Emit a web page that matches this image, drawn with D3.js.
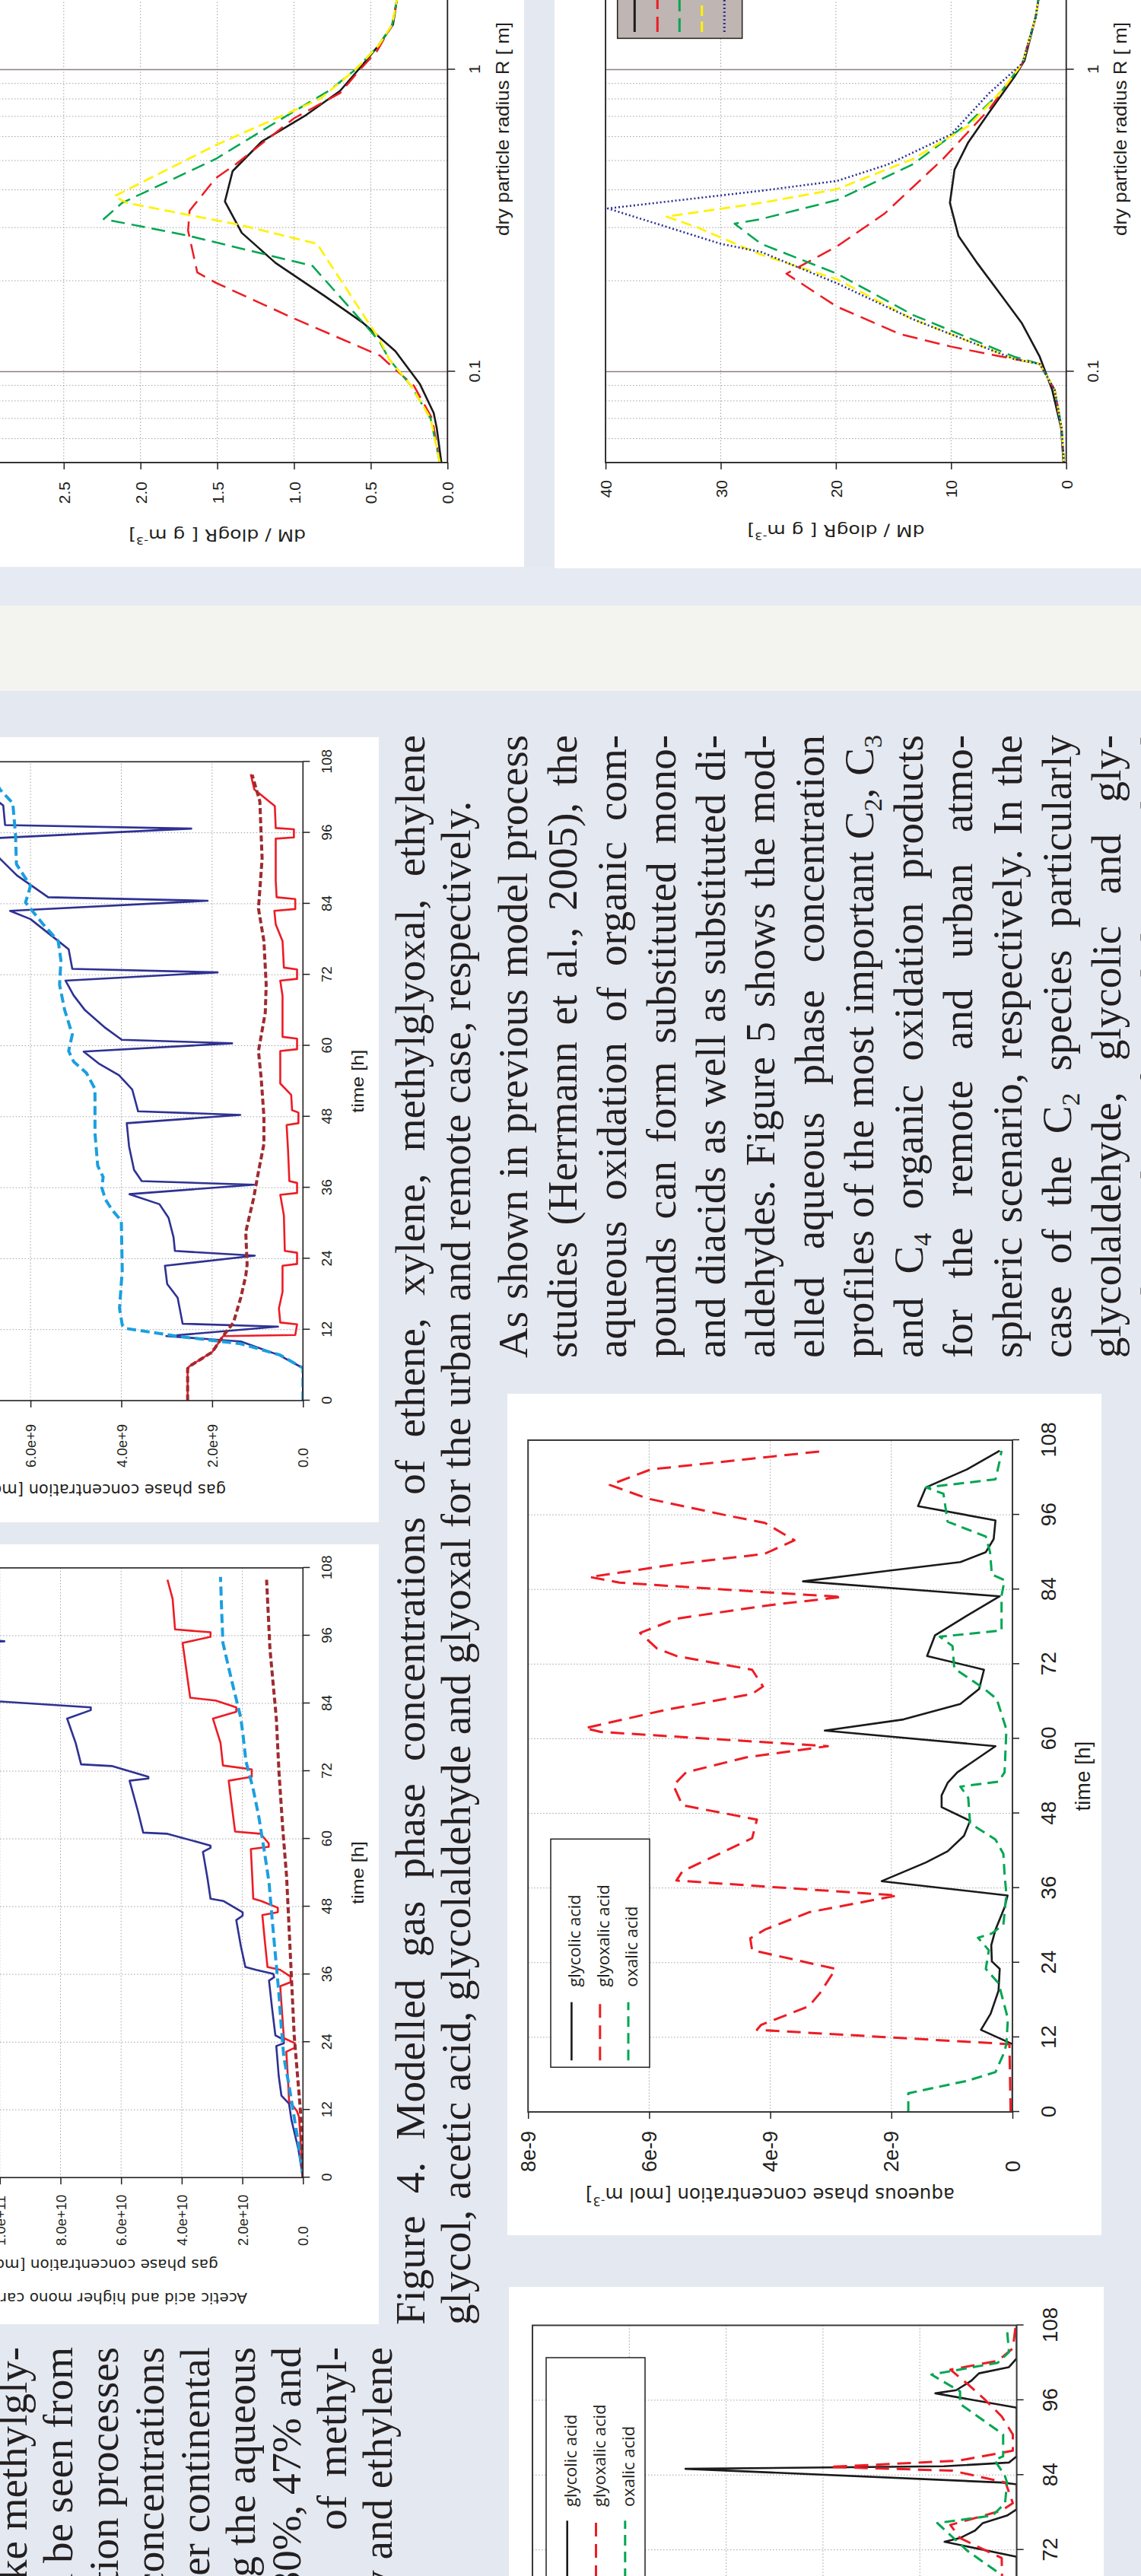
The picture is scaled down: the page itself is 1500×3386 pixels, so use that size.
<!DOCTYPE html>
<html><head><meta charset="utf-8">
<script src="https://cdn.jsdelivr.net/npm/d3@7"></script>
<style>html,body{margin:0;padding:0;background:#e4e9f1;}svg{display:block}</style>
</head><body>
<script>
// ================= DATA =================
const timeTicks = [0,12,24,36,48,60,72,84,96,108];
// panel C (gas phase, x1e9)
const gasTicksC = [0,2,4,6,8];
const gasTickLabelsC = ["0.0","2.0e+9","4.0e+9","6.0e+9","8.0e+9"];
// panel D (acetic acid, x1e10)
const gasTicksD = [0,2,4,6,8,10,12];
const gasTickLabelsD = ["0.0","2.0e+10","4.0e+10","6.0e+10","8.0e+10","1.0e+11","1.2e+11"];
// panels E, F (aqueous, x1e-9)
const aqTicksE = [0,2,4,6,8];
const aqTickLabelsE = ["0","2e-9","4e-9","6e-9","8e-9"];
const aqTicksF = [0,2,4,6,8,10];
const aqTickLabelsF = ["0","2e-9","4e-9","6e-9","8e-9","1e-8"];
// size distributions
const massTicksA = [0,0.5,1,1.5,2,2.5,3];
const massTickLabelsA = ["0.0","0.5","1.0","1.5","2.0","2.5","3.0"];
const massTicksB = [0,10,20,30,40];
const massTickLabelsB = ["0","10","20","30","40"];
const radiusTicks = [0.1,1,10];
const radiusTickLabels = ["0.1","1","10"];
const radiusMinor = [0.06,0.07,0.08,0.09,0.2,0.3,0.4,0.5,0.6,0.7,0.8,0.9,2,3,4,5,6,7,8,9];

// chart A : remote  [R (um), dM/dlogR]
const remoteBlack = [[0.05,0.04],[0.065,0.07],[0.073,0.09],[0.091,0.18],[0.117,0.34],[0.145,0.55],[0.178,0.80],[0.229,1.12],[0.288,1.34],[0.366,1.45],[0.461,1.40],[0.578,1.21],[0.708,0.92],[0.85,0.70],[1.0,0.58],[1.2,0.45],[1.41,0.355],[1.7,0.33],[3,0.3],[10,0.25]];
const remoteRed = [[0.05,0.05],[0.07,0.10],[0.09,0.22],[0.106,0.38],[0.113,0.44],[0.15,1.0],[0.197,1.51],[0.213,1.63],[0.293,1.69],[0.341,1.68],[0.437,1.51],[0.486,1.38],[0.69,1.0],[0.836,0.70],[1.0,0.57],[1.15,0.46],[1.41,0.36],[1.7,0.33],[3,0.3],[10,0.25]];
const remoteGreen = [[0.05,0.05],[0.07,0.11],[0.09,0.24],[0.11,0.38],[0.125,0.44],[0.136,0.50],[0.224,0.88],[0.282,1.69],[0.32,2.24],[0.362,2.12],[0.506,1.51],[0.678,1.10],[0.853,0.77],[1.0,0.6],[1.2,0.45],[1.41,0.36],[1.7,0.33],[3,0.3],[10,0.25]];
const remoteYellow = [[0.05,0.05],[0.07,0.11],[0.09,0.24],[0.11,0.38],[0.127,0.44],[0.265,0.85],[0.306,1.35],[0.362,2.09],[0.381,2.17],[0.562,1.51],[0.80,0.83],[1.0,0.6],[1.2,0.45],[1.41,0.36],[1.7,0.33],[3,0.3],[10,0.25]];
// chart B : urban
const urbanBlack = [[0.05,0.24],[0.065,0.44],[0.087,1.22],[0.112,2.3],[0.145,3.87],[0.178,5.6],[0.228,7.7],[0.281,9.35],[0.362,10.1],[0.466,9.7],[0.575,8.5],[0.72,6.72],[0.946,4.5],[1.07,3.63],[1.5,2.64],[1.7,2.42],[3,2.3],[10,2.0]];
const urbanRed = [[0.05,0.2],[0.065,0.4],[0.087,1.0],[0.106,2.3],[0.11,4.5],[0.121,10.0],[0.133,14.4],[0.164,19.9],[0.211,24.3],[0.26,19.9],[0.333,15.8],[0.506,10.7],[0.738,6.7],[1.05,3.8],[1.5,2.64],[1.7,2.42],[3,2.3],[10,2.0]];
const urbanGreen = [[0.05,0.2],[0.065,0.4],[0.087,1.0],[0.106,2.3],[0.112,4.5],[0.154,13.3],[0.211,19.9],[0.265,26.5],[0.309,28.8],[0.32,26.5],[0.37,19.9],[0.486,13.3],[0.665,8.5],[0.85,5.6],[1.05,3.8],[1.5,2.64],[1.7,2.42],[3,2.3],[10,2.0]];
const urbanYellow = [[0.05,0.2],[0.065,0.4],[0.087,1.0],[0.106,2.3],[0.11,4.5],[0.149,13.3],[0.202,19.9],[0.244,26.5],[0.3,32.0],[0.326,34.7],[0.345,30.3],[0.362,26.5],[0.402,19.9],[0.506,13.3],[0.65,8.5],[0.85,5.6],[1.05,3.8],[1.5,2.64],[1.7,2.42],[3,2.3],[10,2.0]];
const urbanBlue = [[0.05,0.2],[0.065,0.4],[0.087,1.0],[0.106,2.3],[0.11,4.5],[0.149,13.3],[0.196,19.9],[0.249,26.5],[0.265,30.0],[0.347,39.8],[0.397,26.5],[0.428,19.9],[0.485,15.5],[0.61,10.0],[0.835,6.7],[1.05,3.8],[1.5,2.64],[1.7,2.42],[3,2.3],[10,2.0]];

// panel C : gas phase [t (h), conc / 1e9]
const navyC = [[0,0],[5.5,0],[7.7,0.53],[10.0,1.37],[10.9,3.01],[12.5,0.55],[13.0,2.65],[15,2.7],[17.4,2.76],[19.7,2.99],[22.8,3.04],[24.5,1.06],[25.3,2.82],[27.6,2.85],[30.9,2.96],[33.2,3.16],[34.9,3.82],[36.5,1.08],[37.1,3.55],[39,3.72],[43,3.83],[46.9,3.88],[48.3,1.38],[48.9,3.63],[52.6,3.76],[55,4.05],[57,4.5],[59,4.83],[60.4,1.56],[61,3.99],[63,4.35],[66,4.8],[68.5,5.05],[71,5.23],[72.4,1.88],[73,5.08],[76.3,5.16],[77.7,5.39],[81.4,6.0],[82.8,6.45],[84.5,2.1],[85.1,5.61],[88.8,6.3],[91.6,6.67],[93.5,6.9],[95,7.0],[96.7,2.46],[97.3,6.56],[100.6,6.6],[103,7.0],[108,7.3]];
const redC = [[0,2.54],[5.4,2.54],[5.8,2.5],[8.2,2.0],[10.9,1.76],[11.1,0.17],[12.9,0.13],[13.2,0.5],[15.6,0.53],[18.4,0.45],[22.8,0.45],[23.1,0.13],[25,0.13],[25.3,0.4],[31.3,0.42],[34.8,0.5],[35.1,0.13],[36.8,0.13],[37.1,0.3],[42.5,0.33],[46.6,0.36],[46.9,0.1],[48.7,0.1],[49.1,0.24],[51.7,0.26],[53.6,0.5],[59.1,0.5],[59.4,0.13],[61.2,0.13],[61.5,0.45],[68.4,0.45],[71,0.5],[71.3,0.13],[72.9,0.13],[73.2,0.42],[77.7,0.45],[80.5,0.6],[82.8,0.63],[83.1,0.17],[84.8,0.17],[85.1,0.58],[87.9,0.6],[91.6,0.6],[95,0.6],[95.2,0.2],[96.6,0.2],[96.8,0.6],[100.5,0.62],[103.3,1.07],[105.9,1.15]];
const cyanC = [[0,0],[5.5,0],[7.7,0.5],[9.6,1.37],[10.9,2.78],[12.2,3.9],[12.8,3.98],[15.6,4.04],[22,3.98],[30.4,4.0],[32.2,4.2],[34,4.35],[36,4.43],[37.8,4.4],[39.7,4.52],[45.2,4.58],[52.7,4.58],[55.4,4.77],[57.3,5.05],[59.1,5.16],[61.9,5.08],[66.1,5.25],[70.3,5.36],[74.4,5.33],[77.7,5.39],[80.5,5.72],[84.2,6.11],[87,6.0],[90.7,6.31],[95.7,6.33],[101,6.39],[103.3,6.67],[108,7.0]];
const darkC = [[0,2.54],[5.4,2.54],[5.8,2.5],[8.2,2.0],[10.9,1.76],[13.2,1.53],[17.4,1.37],[21.1,1.26],[23,1.23],[28.5,1.26],[34.1,1.09],[38.7,0.98],[43.4,0.86],[48,0.86],[54.5,0.92],[59.1,0.98],[65.6,0.83],[70.3,0.81],[77.7,0.86],[83.2,0.98],[91.6,0.9],[101.3,0.95],[105.8,1.12]];

// panel D : acetic acid etc. [t (h), conc / 1e10]
const navyD = [[0,0],[5,0.15],[10.2,0.38],[13.1,0.46],[14.5,0.71],[18,0.8],[23.3,0.88],[23.8,0.63],[24.4,0.63],[25.2,0.91],[30,1.02],[34.9,1.12],[35.5,0.95],[36.1,0.98],[36.8,1.55],[37.3,1.9],[41,2.05],[45.6,2.2],[46.4,1.99],[47,1.99],[49,2.63],[49.4,3.05],[53,3.15],[57.7,3.3],[58.4,3.05],[58.8,3.05],[60.9,4.47],[61.1,5.27],[65,5.45],[70.3,5.72],[70.7,5.1],[71,5.1],[72.9,6.31],[73.2,7.32],[77,7.5],[81.3,7.78],[82.8,7.0],[83.3,7.0],[84.5,10.5],[94.6,11.0],[95.0,9.85],[95.6,11.0],[108,11.5]];
const redD = [[0,0],[10.7,0.13],[11.8,0.2],[13.6,0.46],[18,0.5],[22.3,0.55],[23.0,0.27],[23.8,0.27],[24.7,0.63],[30,0.7],[33.9,0.75],[34.6,0.41],[35.6,0.41],[36.8,0.75],[37.3,1.17],[42,1.26],[46.5,1.34],[47,0.83],[47.8,0.83],[49,1.38],[49.4,1.64],[54,1.68],[58.2,1.72],[58.6,1.13],[59.2,1.13],[60.9,1.4],[61.3,2.24],[66,2.35],[70.3,2.45],[71,1.69],[72.3,1.69],[73,2.64],[77,2.72],[81.3,2.97],[82.5,2.2],[83.3,2.2],[84.5,2.88],[85,3.72],[90,3.85],[94.7,3.97],[95.8,3.05],[96.6,3.05],[97.1,4.22],[102.5,4.3],[105.9,4.47]];
const cyanD = [[0,0],[5,0.12],[10.7,0.29],[16,0.45],[21.3,0.63],[27,0.72],[33,0.8],[40,0.92],[46,1.02],[52.3,1.12],[58,1.28],[64,1.46],[69,1.65],[73.7,1.88],[78,1.97],[81.4,2.05],[88,2.35],[94.7,2.64],[100,2.68],[106.4,2.72]];
const darkD = [[0,0],[11.6,0.08],[25.2,0.29],[38.8,0.41],[53.3,0.54],[62,0.67],[71.7,0.79],[81.4,0.88],[93.7,1.09],[105.9,1.2]];

// panel E : aqueous, remote [t (h), conc / 1e-9]
const glycolicE = [[0,0],[10.9,0],[13.2,0.52],[15.8,0.36],[19.5,0.23],[23,0.21],[24.2,0.34],[26.8,0.35],[29.3,0.28],[32.9,0.13],[34.8,0.08],[37.1,2.16],[40.1,1.43],[41.9,1.07],[44.4,0.8],[46.8,0.7],[49,1.17],[50.9,1.17],[52.9,1.07],[54.6,0.91],[58.8,0.28],[61.3,3.1],[63.1,1.8],[65.6,0.86],[68,0.55],[71.1,0.47],[73.3,1.41],[76.6,1.28],[79.8,0.75],[82.9,0.21],[85.3,3.46],[87,2.06],[88.4,0.86],[90,0.44],[92.1,0.31],[95.1,0.28],[97.4,1.56],[100.4,1.43],[103.3,0.75],[106.3,0.21]];
const glyoxalicE = [[0,0.03],[10.9,0.05],[13.2,4.22],[14,4.15],[17,3.36],[19.1,3.18],[23,2.92],[26,4.3],[27.9,4.33],[29.3,4.09],[32.1,3.36],[34.8,1.9],[37.2,5.55],[38.7,5.45],[44,4.3],[47,4.22],[49.3,5.45],[52.5,5.6],[54.6,5.39],[57,4.4],[58.8,3.05],[61.1,6.8],[61.7,7.06],[64.7,5.7],[67.2,4.3],[68.4,4.12],[71.1,4.3],[73.3,5.55],[74.5,5.87],[77,6.15],[79.3,5.55],[81.5,3.99],[82.8,2.81],[83.5,3.99],[85.1,6.49],[86,6.98],[88.2,5.45],[89.7,4.1],[91.9,3.6],[94.7,4.09],[95.9,4.72],[98.6,6.02],[100.8,6.65],[103.3,5.97],[106.3,3.07]];
const oxalicE = [[0,1.72],[3.0,1.72],[5,0.75],[6.4,0.28],[9.7,0.13],[11,0.1],[15,0.075],[20.7,0.23],[23,0.44],[26,0.39],[28,0.57],[28.7,0.34],[30.1,0.15],[35,0.1],[38.2,0.13],[41.5,0.15],[43.8,0.28],[46.4,0.7],[50.5,0.73],[52.3,0.86],[53.1,0.23],[54.6,0.13],[61.5,0.1],[66.4,0.26],[68.2,0.49],[71.3,0.96],[74.9,0.99],[76.4,1.2],[77.4,0.18],[83,0.18],[85.5,0.13],[86.4,0.34],[90,0.37],[92.5,0.44],[94.9,1.07],[99.4,1.14],[100.4,1.43],[101.7,0.28],[104.7,0.21],[106.3,0.18]];
// panel F : aqueous, urban (visible part)
const glycolicF = [[66,0],[70.9,0],[73.3,1.49],[73.9,1.17],[75.1,0.86],[76.3,0.7],[77.5,0.2],[78.5,0],[82.5,0],[82.8,0.31],[85.0,6.84],[85.4,1.5],[86.0,0.16],[87,0],[94.8,0],[97.1,1.68],[97.6,1.25],[99.1,0.94],[100.3,0.78],[101.3,0.16],[102.7,0],[108,0]];
const glyoxalicF = [[66,0.3],[70.7,0.31],[72.5,0.8],[73.9,1.17],[76,1.37],[78.3,0.31],[79.5,0.08],[82.8,0.23],[84.7,1.33],[85.3,3.87],[86.3,1.2],[87.9,0.08],[90.5,0.08],[93.4,0.31],[96.2,0.67],[98.5,1.0],[100.9,1.37],[102.3,0.39],[104.3,0.08],[108,0.02]];
const oxalicF = [[66,0.39],[68.4,0.39],[71.8,1.01],[76.3,1.64],[77.5,0.5],[79.5,0.24],[82.8,0.2],[84,0.25],[86.4,0.46],[87,0.28],[90.5,0.28],[92,0.55],[95.4,1.17],[97.4,1.17],[100.1,1.76],[102,0.39],[103.7,0.16],[107.4,0.2]];

const legendAq = ["glycolic acid","glyoxalic acid","oxalic acid"];

// texts
const leftParagraph = ["like methylgly-","can be seen from","oxidation processes","concentrations","under continental","during the aqueous","30%, 47% and","of methyl-","respectively and ethylene"];
const captionLines = ["Figure 4. Modelled gas phase concentrations of ethene, xylene, methylglyoxal, ethylene",
  "glycol, acetic acid, glycolaldehyde and glyoxal for the urban and remote case, respectively."];
const rightParagraph = ["As shown in previous model process","studies (Herrmann et al., 2005), the","aqueous oxidation of organic com-","pounds can form substituted mono-","and diacids as well as substituted di-","aldehydes. Figure 5 shows the mod-","elled aqueous phase concentration","profiles of the most important C_2, C_3","and C_4 organic oxidation products","for the remote and urban atmo-","spheric scenario, respectively. In the","case of the C_2 species particularly","glycolaldehyde, glycolic and gly-","oxylic acid are formed during cloud"];

// ================= DRAWING =================
const W=1500,H=3386;
const INK="#231f20";
const SERIF="'Liberation Serif','Times New Roman',serif";
const SANS="'Liberation Sans',Arial,sans-serif";
const DSANS="'DejaVu Sans',Verdana,sans-serif";
const OSANS="'Open Sans','Liberation Sans',sans-serif";
const BODY=55;

const svg=d3.select("body").append("svg").attr("width",W).attr("height",H);
const defs=svg.append("defs");
svg.append("rect").attr("width",W).attr("height",H).attr("fill","#e4e9f1");
// poster coordinates: u along poster width, v down poster height
const P=svg.append("g").attr("transform",`translate(0,${H}) rotate(-90)`);

// column separator band
P.append("rect").attr("x",2478).attr("y",-10).attr("width",112).attr("height",1520).attr("fill","#f3f4f0");
P.append("rect").attr("x",2590).attr("y",-10).attr("width",51).attr("height",1520).attr("fill","#e6ebf3");

function panel(u0,u1,v0,v1){P.append("rect").attr("x",u0).attr("y",v0).attr("width",u1-u0).attr("height",v1-v0).attr("fill","#fff");}
panel(2641,3420,-20,689);   // A
panel(2639,3420,729,1520);  // B
panel(1385,2417,-20,498);   // C
panel(331,1356,-20,498);    // D
panel(448,1554,667,1448);   // E
panel(-20,380,669,1451);    // F

let clipN=0;
function clipFor(x0,y0,x1,y1){
  const id="clip"+(clipN++);
  defs.append("clipPath").attr("id",id).append("rect").attr("x",Math.min(x0,x1)).attr("y",Math.min(y0,y1)).attr("width",Math.abs(x1-x0)).attr("height",Math.abs(y1-y0));
  return `url(#${id})`;
}
function supTitle(sel,main,sup,tail,fs){
  sel.append("tspan").text(main);
  sel.append("tspan").attr("dy",-fs*0.38).attr("font-size",fs*0.65).text(sup);
  sel.append("tspan").attr("dy",fs*0.38).text(tail);
}

function timeChart(c){
  const xs=d3.scaleLinear().domain([0,108]).range([c.u0,c.u1]);
  const ys=d3.scaleLinear().domain([0,c.yMax]).range([c.v0,c.vTop]);
  const g=P.append("g");
  const grid=g.append("g").attr("stroke","#a2a2a2").attr("stroke-width",1).attr("stroke-dasharray","1.5,2.5");
  timeTicks.filter(t=>t>0&&t<108).forEach(t=>grid.append("line").attr("x1",xs(t)).attr("x2",xs(t)).attr("y1",ys(c.yMax)).attr("y2",ys(0)));
  c.yTicks.filter(v=>v>0&&v<c.yMax).forEach(v=>grid.append("line").attr("x1",xs(0)).attr("x2",xs(108)).attr("y1",ys(v)).attr("y2",ys(v)));
  const lg=g.append("g").attr("clip-path",clipFor(xs(0),ys(c.yMax),xs(108),ys(0)));
  const line=d3.line().x(d=>xs(d[0])).y(d=>ys(d[1]));
  c.series.forEach(s=>lg.append("path").attr("d",line(s.data)).attr("fill","none").attr("stroke",s.color)
    .attr("stroke-width",s.w).attr("stroke-dasharray",s.dash||null).attr("stroke-linejoin","round"));
  g.append("rect").attr("x",xs(0)).attr("y",ys(c.yMax)).attr("width",xs(108)-xs(0)).attr("height",ys(0)-ys(c.yMax))
    .attr("fill","none").attr("stroke",c.frame||INK).attr("stroke-width",c.frameW||1.6);
  const ax=g.append("g").attr("transform",`translate(0,${ys(0)})`)
    .call(d3.axisBottom(xs).tickValues(timeTicks).tickSize(c.tick).tickSizeOuter(0).tickFormat(d3.format("d")));
  ax.select(".domain").remove();
  ax.selectAll(".tick line").attr("stroke",INK).attr("stroke-width",1.5);
  ax.selectAll("text").attr("y",c.tOff).attr("dy",null).attr("dominant-baseline","central")
    .attr("font-size",c.tFont).attr("font-family",SANS).attr("fill",INK);
  const ay=g.append("g").attr("transform",`translate(${xs(0)},0)`)
    .call(d3.axisLeft(ys).tickValues(c.yTicks).tickSize(c.tick).tickSizeOuter(0).tickFormat((d,i)=>c.yLabels[i]));
  ay.select(".domain").remove();
  ay.selectAll(".tick line").attr("stroke",INK).attr("stroke-width",1.5);
  ay.selectAll("text").attr("x",c.yLabU-xs(0)).attr("dy",null).attr("text-anchor","start").attr("dominant-baseline","central")
    .attr("font-size",c.yFont).attr("font-family",SANS).attr("fill",INK);
  const tt=g.append("text").attr("x",(xs(0)+xs(108))/2).attr("y",c.tTitleV).attr("text-anchor","middle").attr("dominant-baseline","central")
    .attr("font-family",SANS).attr("font-size",c.tTitleFont).attr("fill",INK).text("time [h]");
  if(c.tTitleLen) tt.attr("textLength",c.tTitleLen).attr("lengthAdjust","spacingAndGlyphs");
  (c.yTitles||[]).forEach(t=>{
    const el=g.append("text").attr("transform",`translate(${t.u},${t.v}) rotate(-90)`).attr("text-anchor",t.anchor)
      .attr("dominant-baseline","central").attr("font-family",DSANS).attr("font-size",t.fs).attr("fill",INK);
    if(t.sup) supTitle(el,t.text,t.sup,"]",t.fs); else el.text(t.text);
    if(t.len) el.attr("textLength",t.len).attr("lengthAdjust","spacingAndGlyphs");
  });
  return {g,xs,ys};
}

function sizeChart(c){
  const xs=d3.scaleLog().domain([0.05,10]).range([2778,3691.5]);
  const ys=d3.scaleLinear().domain([0,c.yMax]).range([c.v0,c.vTop]);
  const g=P.append("g");
  const grid=g.append("g").attr("stroke","#a0a0a0").attr("stroke-width",1).attr("stroke-dasharray","1.5,2.5");
  radiusMinor.forEach(r=>grid.append("line").attr("x1",xs(r)).attr("x2",xs(r)).attr("y1",ys(c.yMax)).attr("y2",ys(0)));
  c.yTicks.filter(v=>v>0&&v<c.yMax).forEach(v=>grid.append("line").attr("x1",xs(0.05)).attr("x2",xs(10)).attr("y1",ys(v)).attr("y2",ys(v)));
  [0.1,1].forEach(r=>g.append("line").attr("x1",xs(r)).attr("x2",xs(r)).attr("y1",ys(c.yMax)).attr("y2",ys(0)).attr("stroke","#8d8080").attr("stroke-width",1.4));
  const lg=g.append("g").attr("clip-path",clipFor(xs(0.05),ys(c.yMax),xs(10),ys(0)));
  const line=d3.line().x(d=>xs(d[0])).y(d=>ys(d[1]));
  c.series.forEach(s=>lg.append("path").attr("d",line(s.data)).attr("fill","none").attr("stroke",s.color)
    .attr("stroke-width",s.w).attr("stroke-dasharray",s.dash||null).attr("stroke-linejoin","round"));
  g.append("rect").attr("x",xs(0.05)).attr("y",ys(c.yMax)).attr("width",xs(10)-xs(0.05)).attr("height",ys(0)-ys(c.yMax))
    .attr("fill","none").attr("stroke",INK).attr("stroke-width",1.8);
  const ax=g.append("g").attr("transform",`translate(0,${ys(0)})`)
    .call(d3.axisBottom(xs).tickValues(radiusTicks).tickSize(10).tickSizeOuter(0).tickFormat((d,i)=>radiusTickLabels[i]));
  ax.select(".domain").remove();
  ax.selectAll(".tick line").attr("stroke",INK).attr("stroke-width",1.5);
  ax.selectAll("text").attr("y",c.rOff).attr("dy",null).attr("dominant-baseline","central")
    .attr("font-size",21).attr("font-family",SANS).attr("fill",INK);
  const ay=g.append("g").attr("transform",`translate(${xs(0.05)},0)`)
    .call(d3.axisLeft(ys).tickValues(c.yTicks).tickSize(9).tickSizeOuter(0).tickFormat((d,i)=>c.yLabels[i]));
  ay.select(".domain").remove();
  ay.selectAll(".tick line").attr("stroke",INK).attr("stroke-width",1.5);
  ay.selectAll("text").attr("x",c.yLabU-xs(0.05)).attr("dy",null).attr("text-anchor","end").attr("dominant-baseline","central")
    .attr("font-size",21).attr("font-family",SANS).attr("fill",INK);
  g.append("text").attr("x",3216.5).attr("y",c.xTitleV).attr("text-anchor","middle").attr("dominant-baseline","central")
    .attr("font-family",SANS).attr("font-size",24).attr("fill",INK).attr("textLength",281).attr("lengthAdjust","spacingAndGlyphs")
    .text("dry particle radius R [ m]");
  const yt=g.append("text").attr("transform",`translate(${c.yTitleU},${(ys(0)+ys(c.yMax))/2}) rotate(-90)`)
    .attr("text-anchor","middle").attr("dominant-baseline","central").attr("font-family",DSANS).attr("font-size",21).attr("fill",INK);
  supTitle(yt,"dM / dlogR [ g m","-3","]",21);
  yt.attr("textLength",233).attr("lengthAdjust","spacingAndGlyphs");
  return {g,xs,ys};
}

// ---------- chart A (remote size distribution) ----------
sizeChart({yMax:3,v0:588.3,vTop:-17.1,yTicks:massTicksA,yLabels:massTickLabelsA,yLabU:2753,rOff:35.2,xTitleV:660,yTitleU:2683,
  series:[
    {data:remoteBlack,color:"#1a1a1a",w:2.6},
    {data:remoteRed,color:"#ed1c24",w:2.5,dash:"20,10"},
    {data:remoteGreen,color:"#00a651",w:2.5,dash:"18,9"},
    {data:remoteYellow,color:"#fff200",w:2.7,dash:"14,7"}]});
// ---------- chart B (urban size distribution) ----------
sizeChart({yMax:40,v0:1401.7,vTop:796.1,yTicks:massTicksB,yLabels:massTickLabelsB,yLabU:2755,rOff:35,xTitleV:1472,yTitleU:2689,
  series:[
    {data:urbanBlack,color:"#1a1a1a",w:2.6},
    {data:urbanRed,color:"#ed1c24",w:2.5,dash:"20,10"},
    {data:urbanGreen,color:"#00a651",w:2.5,dash:"18,9"},
    {data:urbanYellow,color:"#fff200",w:2.7,dash:"14,7"},
    {data:urbanBlue,color:"#2e3192",w:2.6,dash:"2,3"}]});
// legend of chart B (mostly outside the view)
(function(){
  const lg=P.append("g");
  lg.append("rect").attr("x",3335.6).attr("y",811.7).attr("width",90).attr("height",164).attr("fill","#bfb5b3").attr("stroke",INK).attr("stroke-width",1.5);
  const st=[{c:"#1a1a1a",d:null},{c:"#ed1c24",d:"20,10"},{c:"#00a651",d:"18,9"},{c:"#fff200",d:"14,7"},{c:"#2e3192",d:"2,3"}];
  [834.3,864.3,893.3,922.7,952.3].forEach((v,i)=>lg.append("line").attr("x1",3344).attr("x2",3420).attr("y1",v).attr("y2",v)
    .attr("stroke",st[i].c).attr("stroke-width",3).attr("stroke-dasharray",st[i].d));
})();

// ---------- panel C ----------
timeChart({u0:1545,u1:2384.7,v0:398.3,vTop:-79.3,yMax:8,yTicks:gasTicksC,yLabels:gasTickLabelsC,tick:9,
  tOff:31.7,tFont:19,yLabU:1457,yFont:18.5,tTitleV:470,tTitleFont:22,tTitleLen:83,
  yTitles:[{u:1428,v:297,anchor:"start",fs:21,text:"gas phase concentration [molec cm",sup:"-3"}],
  series:[
    {data:navyC,color:"#2e3192",w:2.6},
    {data:redC,color:"#ed1c24",w:2.6},
    {data:cyanC,color:"#1b9fe0",w:4,dash:"12,6"},
    {data:darkC,color:"#9e2b2f",w:4,dash:"8,4"}]});
// ---------- panel D ----------
timeChart({u0:523.7,u1:1325.1,v0:398.3,vTop:-79.9,yMax:12,yTicks:gasTicksD,yLabels:gasTickLabelsD,tick:9,
  tOff:31.7,tFont:19,yLabU:434,yFont:18.5,tTitleV:470,tTitleFont:22,tTitleLen:83,
  yTitles:[{u:408.6,v:286.7,anchor:"start",fs:20,text:"gas phase concentration [molec cm",sup:"-3"},
           {u:365.4,v:325,anchor:"start",fs:20,text:"Acetic acid and higher mono carboxylic acids"}],
  series:[
    {data:navyD,color:"#2e3192",w:2.6},
    {data:redD,color:"#ed1c24",w:2.6},
    {data:cyanD,color:"#1b9fe0",w:4,dash:"12,6"},
    {data:darkD,color:"#9e2b2f",w:4,dash:"8,4"}]});
// ---------- panel E ----------
timeChart({u0:610,u1:1493,v0:1331,vTop:694.2,yMax:8,yTicks:aqTicksE,yLabels:aqTickLabelsE,tick:9,
  tOff:47,tFont:28,yLabU:531,yFont:27,tTitleV:1423,tTitleFont:28,frame:"#3a3a3a",frameW:2,
  yTitles:[{u:502,v:1012.5,anchor:"middle",fs:24,text:"aqueous phase concentration [mol m",sup:"-3",len:485}],
  series:[
    {data:glycolicE,color:"#1a1a1a",w:2.6},
    {data:glyoxalicE,color:"#ed1c24",w:3,dash:"18,10"},
    {data:oxalicE,color:"#00a651",w:3,dash:"14,8"}]});
// ---------- panel F ----------
timeChart({u0:-556,u1:329.5,v0:1336.6,vTop:700,yMax:10,yTicks:aqTicksF,yLabels:aqTickLabelsF,tick:9,
  tOff:44.4,tFont:28,yLabU:-635,yFont:27,tTitleV:1426,tTitleFont:28,frame:"#3a3a3a",frameW:2,
  yTitles:[],
  series:[
    {data:glycolicF,color:"#1a1a1a",w:2.6},
    {data:glyoxalicF,color:"#ed1c24",w:3,dash:"18,10"},
    {data:oxalicF,color:"#00a651",w:3,dash:"14,8"}]});

// aqueous legends
function aqLegend(u0,v0,lineU0,lineU1,textU,vs){
  const lg=P.append("g");
  lg.append("rect").attr("x",u0).attr("y",v0).attr("width",300).attr("height",130).attr("fill","#fff").attr("stroke",INK).attr("stroke-width",1.5);
  const st=[{c:"#1a1a1a",d:null,w:2.6},{c:"#ed1c24",d:"18,10",w:3},{c:"#00a651",d:"14,8",w:3}];
  vs.forEach((v,i)=>{
    lg.append("line").attr("x1",lineU0).attr("x2",lineU1).attr("y1",v).attr("y2",v).attr("stroke",st[i].c).attr("stroke-width",st[i].w).attr("stroke-dasharray",st[i].d);
    lg.append("text").attr("x",textU).attr("y",v+3).attr("dominant-baseline","central").attr("font-family",OSANS).attr("font-size",22).attr("fill",INK).text(legendAq[i]);
  });
}
aqLegend(668.7,724,677.7,754.3,774.3,[751.4,788.8,826]);
aqLegend(-13,718,-4,72.7,91,[745.7,783.5,821.8]);

// ---------- body text ----------
function addWord(w,v){
  const t=P.append("text").attr("y",v).attr("font-family",SERIF).attr("font-size",BODY).attr("fill",INK);
  const parts=w.split(/_(\d)/);
  parts.forEach((p,i)=>{
    if(i%2===0){ if(p) t.append("tspan").attr("dy",i>0?-BODY*0.2:null).text(p); }
    else t.append("tspan").attr("dy",BODY*0.2).attr("font-size",BODY*0.62).text(p);
  });
  return t;
}
function para(lines,u0,width,v0,dv,justifyLast){
  lines.forEach((line,k)=>{
    const v=v0+k*dv;
    const words=line.split(" ");
    const nodes=words.map(w=>addWord(w,v));
    const widths=nodes.map(n=>n.node().getComputedTextLength());
    const total=d3.sum(widths);
    const last=(k===lines.length-1)&&!justifyLast;
    const gap=(!last&&words.length>1)?(width-total)/(words.length-1):BODY*0.25;
    let u=u0;
    nodes.forEach((n,i)=>{n.attr("x",u);u+=widths[i]+gap;});
  });
}
para(captionLines,330,2090,557.6,60,false);
para(rightParagraph,1601,819,693,65,true);
leftParagraph.forEach((s,k)=>{
  P.append("text").attr("x",301).attr("y",35+60*k).attr("text-anchor","end").attr("font-family",SERIF)
   .attr("font-size",BODY).attr("fill",INK).attr("word-spacing",k===7?10:0).text(s);
});
</script>
</body></html>
